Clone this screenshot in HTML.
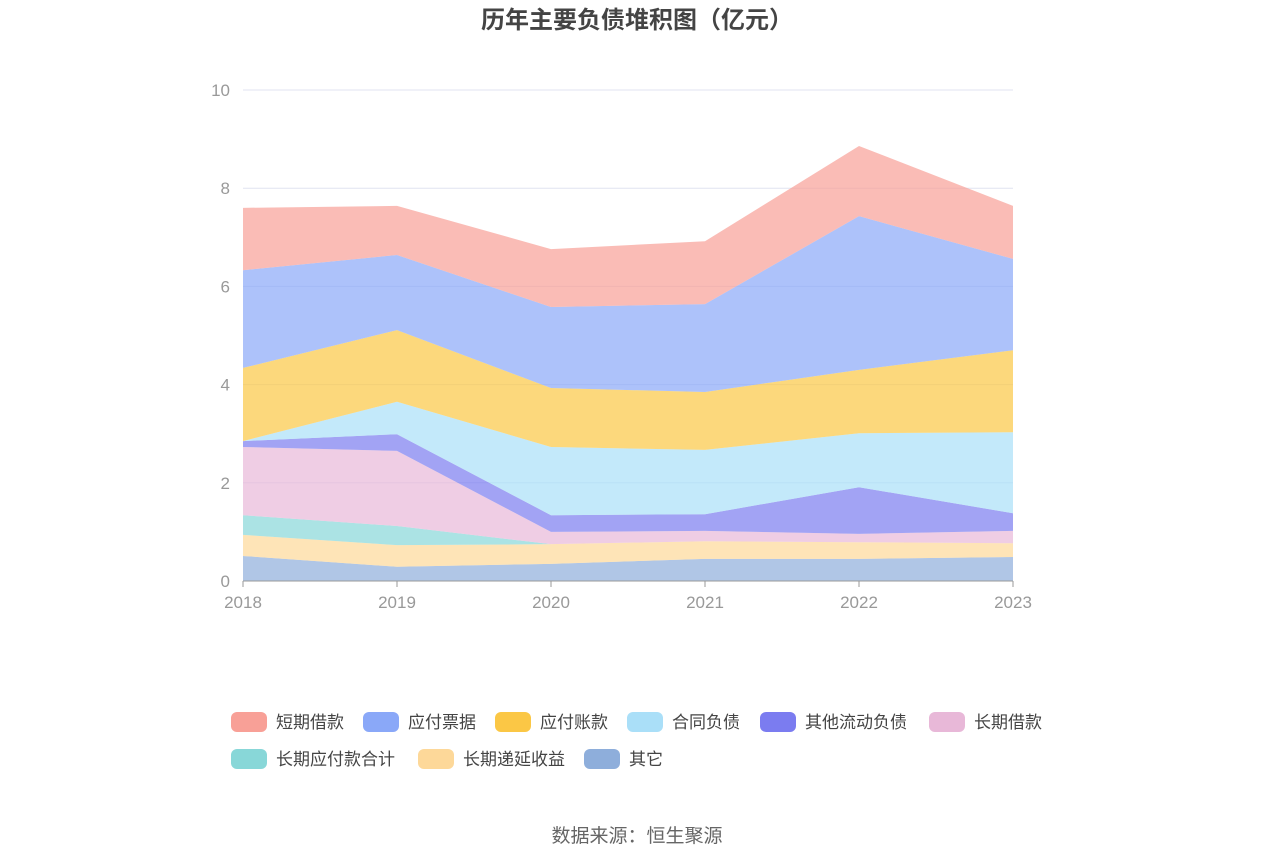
<!DOCTYPE html>
<html><head><meta charset="utf-8"><style>
body{margin:0;background:#fff;width:1275px;height:862px;overflow:hidden;font-family:"Liberation Sans","Noto Sans CJK SC",sans-serif}
</style></head><body>
<svg id="c" width="1275" height="862" xmlns="http://www.w3.org/2000/svg">
<text x="637" y="28" text-anchor="middle" font-size="24" font-weight="bold" fill="#444" font-family="Liberation Sans,Noto Sans CJK SC,sans-serif">历年主要负债堆积图（亿元）</text>
<text x="637" y="842" text-anchor="middle" font-size="19" fill="#666" font-family="Liberation Sans,Noto Sans CJK SC,sans-serif">数据来源：恒生聚源</text>
<g id="grid"></g><g id="areas"></g><g id="axes"></g><g id="legend"></g>
</svg>
<script>
const years=["2018","2019","2020","2021","2022","2023"];
const yTicks=[0,2,4,6,8,10];
const seriesNames=["其它","长期递延收益","长期应付款合计","长期借款","其他流动负债","合同负债","应付账款","应付票据","短期借款"];
const s_other=[0.51,0.29,0.35,0.45,0.45,0.49];
const s_deferred=[0.43,0.44,0.40,0.36,0.34,0.28];
const s_ltPayable=[0.40,0.39,0,0,0,0];
const s_ltLoan=[1.39,1.53,0.25,0.21,0.17,0.25];
const s_otherCurrent=[0.12,0.34,0.34,0.34,0.95,0.36];
const s_contract=[0,0.66,1.39,1.31,1.10,1.65];
const s_accounts=[1.49,1.46,1.20,1.18,1.29,1.67];
const s_notes=[1.99,1.53,1.65,1.79,3.13,1.86];
const s_shortLoan=[1.27,1.00,1.18,1.28,1.43,1.08];
const seriesData=[s_other,s_deferred,s_ltPayable,s_ltLoan,s_otherCurrent,s_contract,s_accounts,s_notes,s_shortLoan];
const colors=["#8eaedb","#fdd899","#88d7d8","#e8b8d8","#7b7cf0","#aadff8","#fbc745","#8aa8f8","#f8a097"];
const NS="http://www.w3.org/2000/svg";
const X0=243,X1=1013,Y0=581,Y1=90,YMAX=10;
const xs=i=>X0+(X1-X0)*i/(years.length-1);
const ys=v=>Y0-(Y0-Y1)*v/YMAX;
function mk(t,a,p){const e=document.createElementNS(NS,t);for(const k in a)e.setAttribute(k,a[k]);p.appendChild(e);return e;}
const F="Liberation Sans,Noto Sans CJK SC,sans-serif";
const grid=document.getElementById('grid');
yTicks.forEach(t=>{
 if(t>0){const l=mk('line',{x1:X0,x2:X1,y1:ys(t),y2:ys(t),stroke:'#e0e3f0'},grid);
 
 }
 const tx=mk('text',{x:230,y:ys(t)+6,'text-anchor':'end','font-size':17,fill:'#999','font-family':F},grid);tx.textContent=t;
 
 
});
const areas=document.getElementById('areas');
let base=years.map(()=>0);
seriesData.forEach((d,si)=>{
 const top=base.map((b,i)=>b+d[i]);
 let pts=top.map((v,i)=>xs(i)+','+ys(v));
 for(let i=years.length-1;i>=0;i--)pts.push(xs(i)+','+ys(base[i]));
 const p=mk('polygon',{points:pts.join(' '),fill:colors[si],'fill-opacity':0.7},areas);
 
 
 base=top;
});
const axes=document.getElementById('axes');
mk('line',{x1:X0,x2:X1,y1:Y0,y2:Y0,stroke:'#999'},axes);
years.forEach((y,i)=>{
 mk('line',{x1:xs(i),x2:xs(i),y1:Y0,y2:Y0+6,stroke:'#999'},axes);
 const t=mk('text',{x:xs(i),y:Y0+27,'text-anchor':'middle','font-size':17,fill:'#999','font-family':F},axes);t.textContent=y;
 
 
});
const legend=document.getElementById('legend');
const legendOrder=[8,7,6,5,4,3,2,1,0];
const legendPos=[[231,722],[363,722],[495,722],[627,722],[760,722],[929,722],[231,759],[418,759],[584,759]];
legendOrder.forEach((si,k)=>{
 const [lx,ly]=legendPos[k];
 const g=mk('g',{},legend);
 
 
 mk('rect',{x:lx,y:ly-10,width:36,height:20,rx:6,fill:colors[si]},g);
 const t=mk('text',{x:lx+45,y:ly+6,'font-size':17,fill:'#444','font-family':F},g);t.textContent=seriesNames[si];
});
</script>
</body></html>
